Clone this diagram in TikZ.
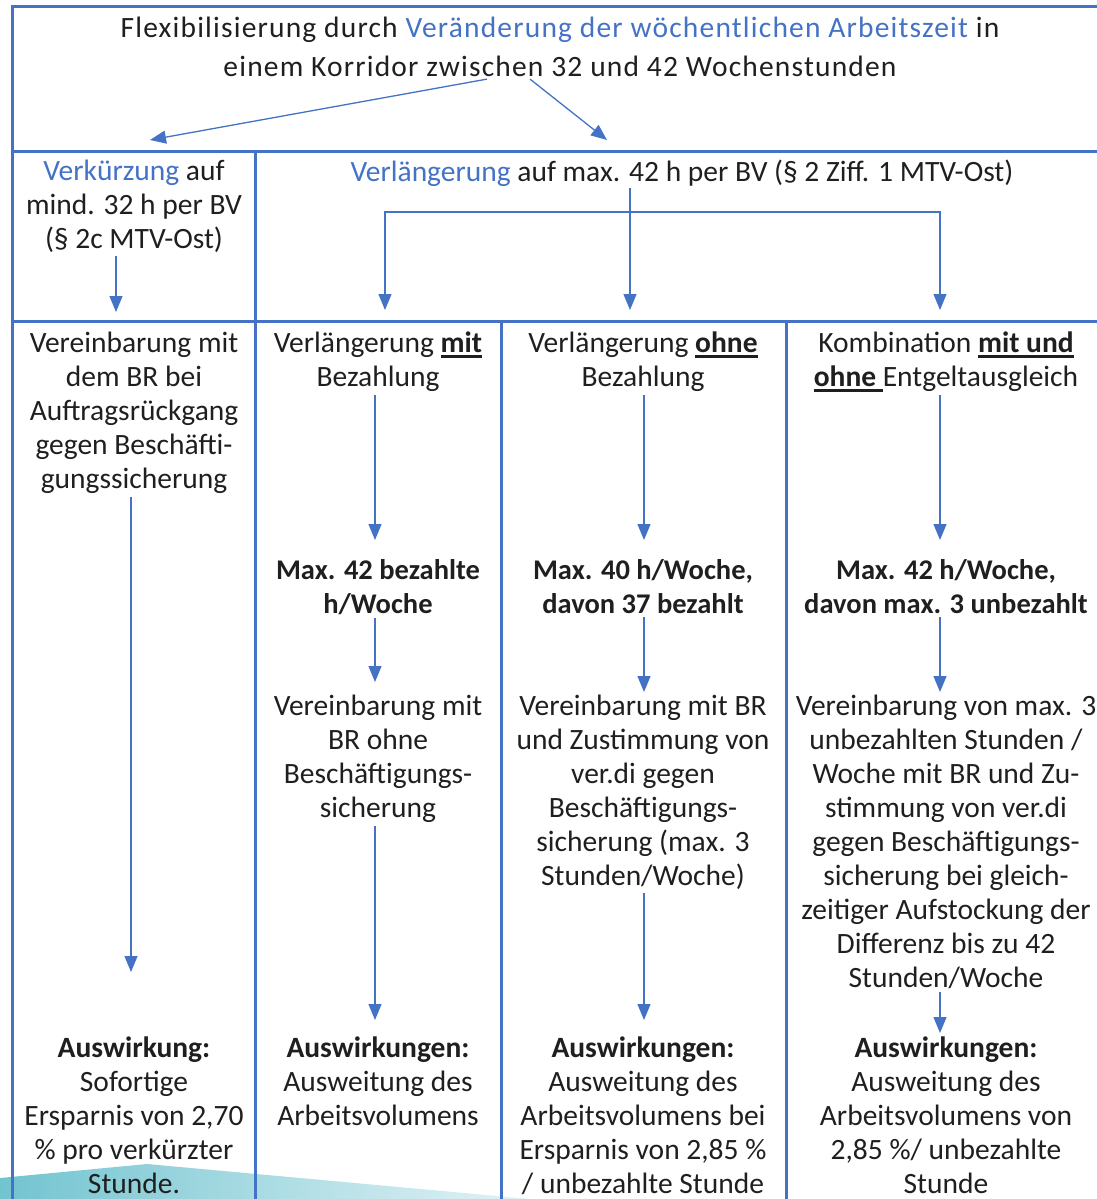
\documentclass[tikz,border=0pt]{standalone}
\usepackage{fontspec}
\setmainfont{Carlito}
\newfontfamily\titelfont{Carlito}[LetterSpace=4]
\usepackage{xcolor}
\usepackage{tikz}
\usetikzlibrary{arrows.meta}

\definecolor{ofblau}{HTML}{4472C4}
\definecolor{tuerkis}{HTML}{72C4D0}
\newcommand{\ustrich}[1]{\setbox0=\hbox{\bfseries #1}\rlap{\rule[-5pt]{\wd0}{2.5pt}}\box0\relax}

\tikzset{
  >={Triangle[width=13pt,length=16pt]},
  txt/.style={align=center, inner sep=0pt, anchor=north, text=black!88,
    font=\fontsize{29.5}{34}\selectfont},
  fett/.style={txt, font=\fontsize{28.5}{34}\selectfont\bfseries},
  rahmen/.style={draw=ofblau, line width=3pt},
  pfeil/.style={->, draw=ofblau, line width=1.3pt},
}

\begin{document}
\begin{tikzpicture}[x=1pt,y=-1pt]
  \useasboundingbox (0,0) rectangle (1097,1199);
  % welle unten links
  \shade[left color=tuerkis, middle color=tuerkis!85, right color=tuerkis!20] (0,1178) -- (147,1164)
     -- (530,1199) -- (0,1199) -- cycle;

  % rahmen
  \draw[rahmen] (12,1199) -- (12,7) -- (1097,7);
  \draw[rahmen] (12,151) -- (1097,151);
  \draw[rahmen] (12,321) -- (1097,321);
  \draw[rahmen] (255,151) -- (255,1199);
  \draw[rahmen] (501,321) -- (501,1199);
  \draw[rahmen] (786,321) -- (786,1199);

  % kopf
  \node[txt, font=\fontsize{29.5}{39}\titelfont] (titel) at (560,17) {Flexibilisierung durch \textcolor{ofblau}{Veränderung der wöchentlichen Arbeitszeit} in\\ einem Korridor zwischen 32 und 42 Wochenstunden};
  \node[txt] (kurz) at (134,160) {\textcolor{ofblau}{Verkürzung} auf\\ mind. 32 h per BV\\ (§ 2c MTV-Ost)};
  \node[txt] (lang) at (682,160) {\textcolor{ofblau}{Verlängerung} auf max. 42 h per BV (§ 2 Ziff. 1 MTV-Ost)};

  % spalte 1
  \node[txt] (vb1) at (134,332) {Vereinbarung mit\\ dem BR bei\\ Auftragsrückgang\\ gegen Beschäfti-\\ gungssicherung};
  \node[txt] (aw1) at (134,1037) {\textbf{Auswirkung:}\\ Sofortige\\ Ersparnis von 2,70\\ \% pro verkürzter\\ Stunde.};

  % spalte 2
  \node[txt] (mit) at (378,332) {Verlängerung \ustrich{mit}\\ Bezahlung};
  \node[fett] (mx1) at (378,559) {Max. 42 bezahlte\\ h/Woche};
  \node[txt] (vb2) at (378,695) {Vereinbarung mit\\ BR ohne\\ Beschäftigungs-\\ sicherung};
  \node[txt] (aw2) at (378,1037) {\textbf{Auswirkungen:}\\ Ausweitung des\\ Arbeitsvolumens};

  % spalte 3
  \node[txt] (ohne) at (643,332) {Verlängerung \ustrich{ohne}\\ Bezahlung};
  \node[fett] (mx2) at (643,559) {Max. 40 h/Woche,\\ davon 37 bezahlt};
  \node[txt] (vb3) at (643,695) {Vereinbarung mit BR\\ und Zustimmung von\\ ver.di gegen\\ Beschäftigungs-\\ sicherung (max. 3\\ Stunden/Woche)};
  \node[txt] (aw3) at (643,1037) {\textbf{Auswirkungen:}\\ Ausweitung des\\ Arbeitsvolumens bei\\ Ersparnis von 2,85 \%\\ / unbezahlte Stunde};

  % spalte 4
  \node[txt] (komb) at (946,332) {Kombination \ustrich{mit und}\\ \ustrich{ohne\ }Entgeltausgleich};
  \node[fett] (mx3) at (946,559) {Max. 42 h/Woche,\\ davon max. 3 unbezahlt};
  \node[txt] (vb4) at (946,695) {Vereinbarung von max. 3\\ unbezahlten Stunden /\\ Woche mit BR und Zu-\\ stimmung von ver.di\\ gegen Beschäftigungs-\\ sicherung bei gleich-\\ zeitiger Aufstockung der\\ Differenz bis zu 42\\ Stunden/Woche};
  \node[txt] (aw4) at (946,1037) {\textbf{Auswirkungen:}\\ Ausweitung des\\ Arbeitsvolumens von\\ 2,85 \%/ unbezahlte\\ Stunde};

  % pfeile oben
  \draw[pfeil] ([xshift=-73pt,yshift=-2pt]titel.south) -- ([xshift=16pt,yshift=20pt]kurz.north);
  \draw[pfeil] ([xshift=-30pt,yshift=-2pt]titel.south) -- ([xshift=-75pt,yshift=20pt]lang.north);
  \draw[pfeil] ([xshift=-18pt,yshift=-3pt]kurz.south) -- ([xshift=-18pt,yshift=20pt]vb1.north);
  \coordinate (gabel) at ([xshift=-52pt,yshift=-25pt]lang.south);
  \draw[pfeil] ([xshift=-52pt,yshift=-1pt]lang.south) -- ([xshift=-13pt,yshift=22pt]ohne.north);
  \draw[pfeil] (gabel) -| ([xshift=7pt,yshift=22pt]mit.north);
  \draw[pfeil] (gabel) -| ([xshift=-6pt,yshift=22pt]komb.north);

  % pfeile spalten
  \draw[pfeil] ([xshift=-3pt,yshift=-3pt]vb1.south) -- ([xshift=-3pt,yshift=65pt]aw1.north);
  \draw[pfeil] ([xshift=-3pt,yshift=-3pt]mit.south) -- ([xshift=-3pt,yshift=19pt]mx1.north);
  \draw[pfeil] ([xshift=-3pt,yshift=-3pt]mx1.south) -- ([xshift=-3pt,yshift=13pt]vb2.north);
  \draw[pfeil] ([xshift=-3pt,yshift=-3pt]vb2.south) -- ([xshift=-3pt,yshift=17pt]aw2.north);
  \draw[pfeil] ([xshift=1pt,yshift=-3pt]ohne.south) -- ([xshift=1pt,yshift=19pt]mx2.north);
  \draw[pfeil] ([xshift=1pt,yshift=-3pt]mx2.south) -- ([xshift=1pt,yshift=3pt]vb3.north);
  \draw[pfeil] ([xshift=1pt,yshift=-3pt]vb3.south) -- ([xshift=1pt,yshift=17pt]aw3.north);
  \draw[pfeil] ([xshift=-6pt,yshift=-3pt]komb.south) -- ([xshift=-6pt,yshift=19pt]mx3.north);
  \draw[pfeil] ([xshift=-6pt,yshift=-3pt]mx3.south) -- ([xshift=-6pt,yshift=3pt]vb4.north);
  \draw[pfeil] ([xshift=-6pt,yshift=-3pt]vb4.south) -- ([xshift=-6pt,yshift=4pt]aw4.north);
\end{tikzpicture}
\end{document}
